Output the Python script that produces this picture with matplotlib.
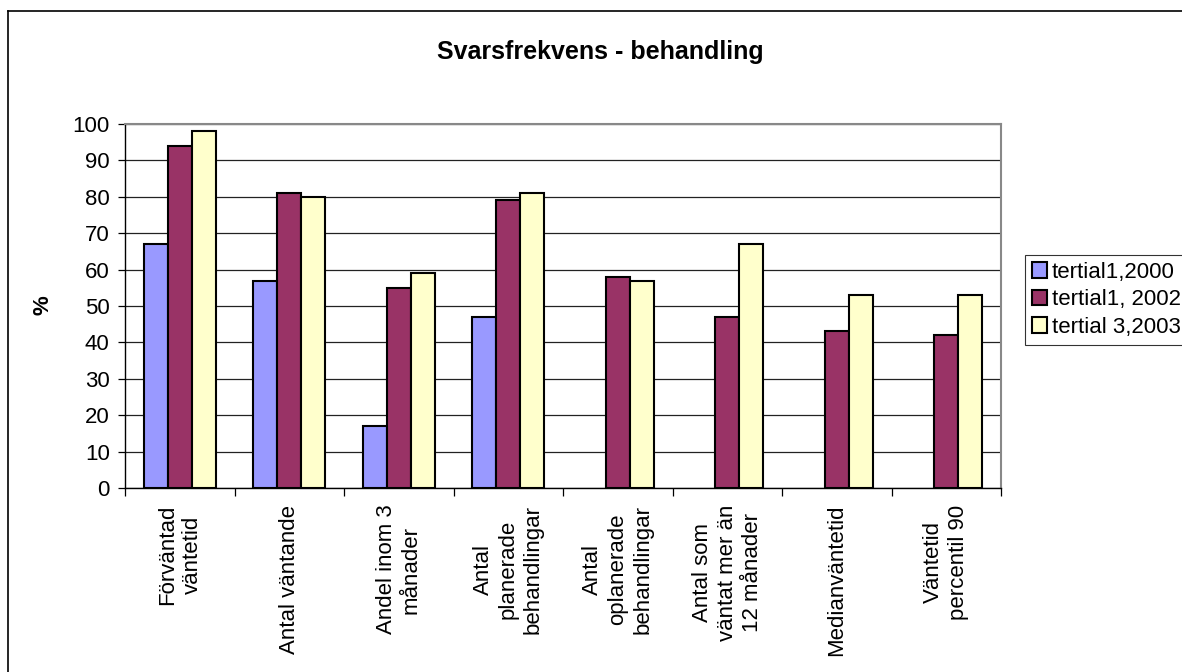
import numpy as np
import matplotlib
matplotlib.use("Agg")
import matplotlib.pyplot as plt
from matplotlib.lines import Line2D

categories = ["Förväntad\nväntetid", "Antal väntande", "Andel inom 3\nmånader",
              "Antal\nplanerade\nbehandlingar", "Antal\noplanerade\nbehandlingar",
              "Antal som\nväntat mer än\n12 månader", "Medianväntetid",
              "Väntetid\npercentil 90"]
series_names = ["tertial1,2000", "tertial1, 2002", "tertial 3,2003"]
s2000 = [67, 57, 17, 47, np.nan, np.nan, np.nan, np.nan]
s2002 = [94, 81, 55, 79, 58, 47, 43, 42]
s2003 = [98, 80, 59, 81, 57, 67, 53, 53]
colors = ["#9999FF", "#993366", "#FFFFCC"]
yticks = list(range(0, 101, 10))

plt.rcParams['font.family'] = ['Liberation Sans', 'DejaVu Sans']

W, H = 1182, 672
fig = plt.figure(figsize=(W / 100, H / 100), dpi=100)
ax = fig.add_axes([125 / W, 1 - 488 / H, (1001 - 125) / W, (488 - 124) / H])

x = np.arange(len(categories))
bw = 0.22
for i, (vals, c, name) in enumerate(zip([s2000, s2002, s2003], colors, series_names)):
    ax.bar(x + (i - 1) * bw, vals, width=bw, color=c, edgecolor="black",
           linewidth=1.5, label=name, zorder=3)

ax.set_xlim(-0.5, len(categories) - 0.5)
ax.set_ylim(0, 100)
ax.set_yticks(yticks)
ax.set_yticklabels([str(v) for v in yticks], fontsize=16)
ax.yaxis.grid(True, color="#222222", linewidth=0.9, zorder=0)
ax.tick_params(axis='y', direction='out', length=5, width=0.9, pad=6)

ax.set_xticks(np.arange(-0.5, len(categories), 1.0))
ax.set_xticklabels([])
ax.tick_params(axis='x', which='major', direction='out', length=6, width=0.9)
ax.set_xticks(x, minor=True)
ax.set_xticklabels(categories, minor=True, rotation=90, fontsize=16,
                   ha='center', va='top', multialignment='center',
                   linespacing=1.25)
ax.tick_params(axis='x', which='minor', length=0, pad=12)

for s in ['left', 'bottom']:
    ax.spines[s].set_color('black')
    ax.spines[s].set_linewidth(1.0)
for s in ['top', 'right']:
    ax.spines[s].set_color('#888888')
    ax.spines[s].set_linewidth(1.5)

fig.text(600 / W, 1 - 52 / H, "Svarsfrekvens - behandling", fontsize=18,
         fontweight='bold', ha='center', va='center')
fig.text(43 / W, 1 - 305 / H, "%", fontsize=16, fontweight='bold',
         rotation=90, ha='center', va='center')

leg = fig.legend(loc='upper left', bbox_to_anchor=(1025 / W, 1 - 255 / H),
                 fontsize=16, frameon=True, fancybox=False, handlelength=0.7,
                 handleheight=0.7, handletextpad=0.2, borderpad=0.3,
                 labelspacing=0.3, borderaxespad=0)
leg.get_frame().set_edgecolor('black')
leg.get_frame().set_linewidth(0.8)

fig.add_artist(Line2D([8 / W, 8 / W], [0, 1 - 11 / H], transform=fig.transFigure,
                      color='black', linewidth=1.2))
fig.add_artist(Line2D([8 / W, 1], [1 - 11 / H, 1 - 11 / H], transform=fig.transFigure,
                      color='black', linewidth=1.2))

fig.savefig("out.png", dpi=100)
